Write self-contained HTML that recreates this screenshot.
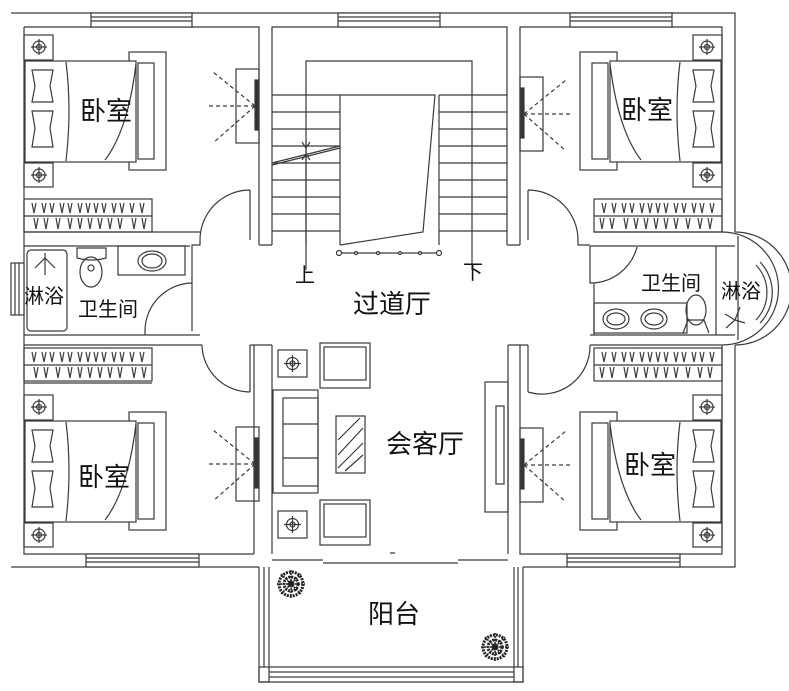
<!DOCTYPE html>
<html><head><meta charset="utf-8"><style>
html,body{margin:0;padding:0;background:#fff;width:789px;height:691px;overflow:hidden}
svg{display:block}
text{font-family:"Liberation Sans","Noto Sans CJK SC",sans-serif;fill:#111}
</style></head><body>
<svg width="789" height="691" viewBox="0 0 789 691" xmlns="http://www.w3.org/2000/svg">
<defs>
<g id="bed">
 <rect x="24" y="35" width="29" height="25" fill="none"/>
 <circle cx="39" cy="47" r="6" fill="none"/><circle cx="39" cy="47" r="2.5" fill="none"/><line x1="31" y1="47" x2="47" y2="47"/><line x1="39" y1="39" x2="39" y2="55"/>
 <rect x="24" y="163" width="29" height="24" fill="none"/>
 <circle cx="39" cy="175" r="6" fill="none"/><circle cx="39" cy="175" r="2.5" fill="none"/><line x1="31" y1="175" x2="47" y2="175"/><line x1="39" y1="167" x2="39" y2="183"/>
 <rect x="129" y="52" width="37" height="118" fill="#fff"/>
 <rect x="138" y="63" width="16" height="96" fill="none"/>
 <rect x="25" y="61" width="111" height="101" fill="#fff"/>
 <path d="M66,62 Q72,110 66,161" fill="none"/>
 <path d="M136,64 Q128,130 105,160" fill="none"/>
 <path d="M32,70 L53,70 L50,86 L53,102 L32,102 L35,86 Z" fill="none"/>
 <path d="M32,111 L53,111 L50,128 L53,147 L32,147 L35,128 Z" fill="none"/>
</g>
<g id="ward">
 <rect x="24" y="0" width="128" height="33" fill="none"/>
 <line x1="24" y1="17" x2="152" y2="17"/>
 <path d="M32,4 l2,10 l2,-10 M42,4 l2,10 l2,-10 M50,4 l2,10 l2,-10 M60,4 l2,10 l2,-10 M68,4 l2,10 l2,-10 M78,4 l2,10 l2,-10 M86,4 l2,10 l2,-10 M94,4 l2,10 l2,-10 M102,4 l2,10 l2,-10 M112,4 l2,10 l2,-10 M120,4 l2,10 l2,-10 M130,4 l2,10 l2,-10 M140,4 l2,10 l2,-10 M34,19 l2,11 l2,-11 M44,19 l2,11 l2,-11 M56,19 l2,11 l2,-11 M68,19 l2,11 l2,-11 M78,19 l2,11 l2,-11 M88,19 l2,11 l2,-11 M98,19 l2,11 l2,-11 M108,19 l2,11 l2,-11 M118,19 l2,11 l2,-11 M132,19 l2,11 l2,-11 M142,19 l2,11 l2,-11" fill="none"/>
</g>
<g id="tv">
 <rect x="236" y="0" width="23" height="74" fill="none"/>
 <rect x="255" y="11" width="3" height="50" fill="#333"/>
 <path d="M255,37 L213,3 M255,37 L208,37 M255,37 L213,74" stroke-dasharray="4,3" fill="none"/>
</g>
<g id="lamp">
 <rect x="0" y="0" width="29" height="27" fill="none"/>
 <circle cx="14.5" cy="13.5" r="6" fill="none"/><circle cx="14.5" cy="13.5" r="2.5" fill="none"/><line x1="6" y1="13.5" x2="23" y2="13.5"/><line x1="14.5" y1="5" x2="14.5" y2="22"/>
</g>
<g id="chair">
 <rect x="0" y="0" width="50" height="45" fill="none"/>
 <rect x="4" y="4" width="42" height="33" fill="none"/>
</g>
<g id="plant">
 <circle cx="0" cy="0" r="12" fill="none" stroke="#222" stroke-dasharray="2,1" stroke-width="3"/>
 <circle cx="0" cy="0" r="7" fill="none" stroke="#222" stroke-dasharray="2,1" stroke-width="3"/>
 <circle cx="0" cy="0" r="3" fill="#222"/>
 <path d="M-14,0 H14 M0,-14 V14 M-10,-10 L10,10 M-10,10 L10,-10" stroke="#222" stroke-width="1.5" stroke-dasharray="2,1"/>
</g>
</defs>
<g stroke="#3a3a3a" stroke-width="1.2" fill="none">
 <path d="M11,13 L735,13 L735,232 M735,345 L735,567 L523,567 M259,567 L11,567 Z" />
 <path d="M24,27 L259,27 L259,245 M272,245 L272,27 L507,27 L507,245 M520,245 L520,27 L722,27 L722,232" />
 <path d="M24,27 L24,554 L254,554 M254,345 L254,554 M272,345 L272,554 M272,560 L323,560 M458,560 L508,560 M508,345 L508,554 M520,345 L520,554 L722,554 L722,345" />
 <g fill="#fff"><rect x="91" y="13" width="101" height="14"/><rect x="338" y="13" width="102" height="14"/><rect x="570" y="13" width="102" height="14"/><rect x="86" y="554" width="113" height="13"/><rect x="567" y="554" width="113" height="13"/><rect x="11" y="263" width="13" height="52"/></g>
 <path d="M91,17 H192 M91,21 H192 M338,17 H440 M338,21 H440 M570,17 H672 M570,21 H672 M86,558 H199 M86,562 H199 M567,558 H680 M567,562 H680 M15,263 V315 M19,263 V315"/>
 <path d="M306,245 V61 H472 V245"/>
 <path d="M340,95 V245 M439,95 V245 M272,95 H340 M439,95 H507"/>
 <path d="M272,112 H340 M272,129 H340 M272,146 H340 M272,163 H340 M272,180 H340 M272,197 H340 M272,214 H340 M272,231 H340"/>
 <path d="M439,112 H507 M439,129 H507 M439,146 H507 M439,163 H507 M439,180 H507 M439,197 H507 M439,214 H507 M439,231 H507"/>
 <path d="M340,95 H435 L423,232 L340,245"/>
 <path d="M272,163 L340,146 M272,165 L340,148"/>
 <path d="M306,140 V270 M302,142 l4,6 l4,-6 M302,160 l4,-6 l4,6"/>
 <path d="M472,245 V270"/>
 <path d="M339,253 H440"/>
 <g fill="#fff"><circle cx="339" cy="253" r="2.5"/><circle cx="356" cy="253" r="1.5"/><circle cx="378" cy="253" r="1.5"/><circle cx="400" cy="253" r="1.5"/><circle cx="420" cy="253" r="1.5"/><circle cx="439" cy="253" r="2.5"/></g>
 <path d="M259,245 H272 M507,245 H520"/>
 <use href="#bed"/>
 <use href="#ward" transform="translate(0,199)"/>
 <use href="#tv" transform="translate(0,69)"/>
 <path d="M250,190 V240 M250,190 A50,50 0 0 0 200,240 M200,240 V245 H192 V246 M24,232 H200 M24,246 H190"/>
 <path d="M24,335 H200 M192,246 V283 M192,283 V331 M192,283 A48,48 0 0 0 145,331 M145,331 V335"/>
 <rect x="27" y="250" width="40" height="81" rx="4"/>
 <path d="M45,253 V275 M35,268 L45,258 L55,268"/>
 <path d="M77,248 H106 V258 Q92,262 77,258 Z"/>
 <ellipse cx="91" cy="272" rx="11" ry="15"/>
 <circle cx="91" cy="268" r="3"/>
 <rect x="118" y="246" width="67" height="29"/>
 <ellipse cx="152" cy="261" rx="14" ry="10"/><ellipse cx="152" cy="261" rx="10" ry="7"/>
 <use href="#bed" transform="translate(0,360)"/>
 <use href="#ward" transform="translate(0,348)"/>
 <use href="#tv" transform="translate(0,427)"/>
 <path d="M24,345 H202 M202,345 A48,48 0 0 0 250,392 M250,345 V392 M250,345 H254"/>
 <path d="M24,383 H152"/>
 <g transform="translate(746,0) scale(-1,1)">
  <use href="#bed"/>
  <use href="#ward" transform="translate(0,199)"/>
 </g>
 <g transform="translate(779,0) scale(-1,1)"><use href="#tv" transform="translate(0,77)"/></g>
 <path d="M528,190 V240 M528,190 A50,50 0 0 1 578,240 M578,240 V245 H590 M594,232 H722 M590,246 H735"/>
 <path d="M735,232 A56,56 0 0 1 735,345 M738,236 V340 M722,232 A52,52 0 0 1 722,345"/>
 <path d="M756,265 A40,40 0 0 1 756,320 M760,262 A44,44 0 0 1 760,323"/>
 <path d="M590,246 V283 A48,48 0 0 0 637,247 M594,283 V335 M590,335 H735 M716,246 V335"/>
 <rect x="594" y="303" width="93" height="30"/>
 <ellipse cx="616" cy="319" rx="13" ry="10"/><ellipse cx="616" cy="319" rx="9" ry="6"/>
 <ellipse cx="654" cy="319" rx="13" ry="10"/><ellipse cx="654" cy="319" rx="9" ry="6"/>
 <ellipse cx="696" cy="310" rx="10" ry="15"/><path d="M683,333 L688,320 H704 L709,333"/>
 <path d="M735,320 L725,314 M735,320 L740,307 M735,320 L726,328 M735,320 L745,323"/>
 <g transform="translate(746,360) scale(-1,1)"><use href="#bed"/></g>
 <g transform="translate(746,348) scale(-1,1)"><use href="#ward"/></g>
 <g transform="translate(779,0) scale(-1,1)"><use href="#tv" transform="translate(0,428)"/></g>
 <path d="M590,345 H722 M590,345 A48,48 0 0 1 528,392 M528,345 V392 M520,345 H528"/>
 <path d="M254,345 H272 M508,345 H520"/>
 <use href="#lamp" transform="translate(278,350)"/>
 <use href="#lamp" transform="translate(278,511)"/>
 <use href="#chair" transform="translate(320,343)"/>
 <use href="#chair" transform="translate(320,500)"/>
 <rect x="273" y="390" width="45" height="103"/>
 <rect x="283" y="398" width="35" height="88"/>
 <path d="M283,424 H318 M283,458 H318"/>
 <rect x="336" y="416" width="29" height="57"/>
 <path d="M338,440 L360,418 M338,455 L363,428 M338,468 L363,443 M345,471 L363,455"/>
 <rect x="485" y="382" width="23" height="130"/>
 <rect x="496" y="406" width="8" height="78"/>
 <path d="M323,563 H458 M390,553 h5"/>
 <path d="M259,567 V682 H523 V567 M264,567 V667 M269,567 V667 M514,567 V667 M518,567 V667 M269,667 H514 M269,672 H514 M269,677 H514"/>
 <rect x="259" y="667" width="10" height="15"/><rect x="514" y="667" width="9" height="15"/>
 <use href="#plant" transform="translate(291,584)"/>
 <use href="#plant" transform="translate(495,647)"/>
</g>
<g font-size="26">
 <text x="80" y="120">卧室</text>
 <text x="621" y="119">卧室</text>
 <text x="78" y="486">卧室</text>
 <text x="624" y="474">卧室</text>
 <text x="353" y="313">过道厅</text>
 <text x="386" y="453">会客厅</text>
 <text x="368" y="623">阳台</text>
</g>
<g font-size="20">
 <text x="24" y="303">淋浴</text>
 <text x="78" y="316">卫生间</text>
 <text x="295" y="282">上</text>
 <text x="463" y="279">下</text>
 <text x="641" y="290">卫生间</text>
 <text x="721" y="298">淋浴</text>
</g>
</svg>
</body></html>
